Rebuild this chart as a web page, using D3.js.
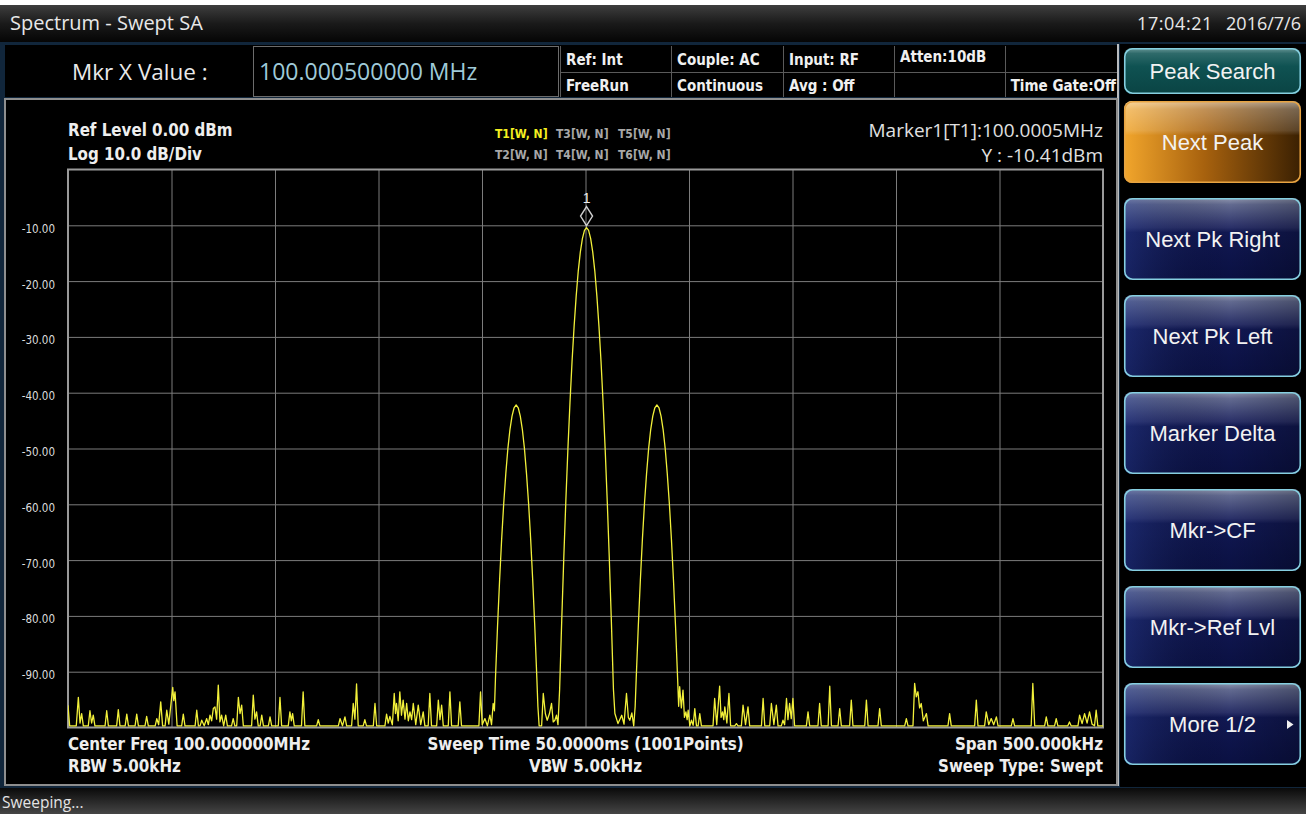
<!DOCTYPE html>
<html>
<head>
<meta charset="utf-8">
<script src="https://cdn.jsdelivr.net/npm/d3@7"></script>
<style>
body { margin: 0; background: #000; overflow: hidden; }
svg text { font-family: "DejaVu Sans Condensed", "Liberation Sans Narrow", "Noto Sans", sans-serif; }
svg text.ui { font-family: "Liberation Sans", Arial, sans-serif; }
svg text.win { font-family: "Open Sans", "Noto Sans", sans-serif; }
</style>
</head>
<body>
<div id="chart"></div>
<script>

// values
var yTicks = [-10, -20, -30, -40, -50, -60, -70, -80, -90];
var xGrid = [-200, -150, -100, -50, 0, 50, 100, 150, 200];
var infoTop = ["Ref: Int", "Couple: AC", "Input: RF", "Atten:10dB", ""];
var infoBottom = ["FreeRun", "Continuous", "Avg : Off", "", "Time Gate:Off"];
var traceRow1 = ["T1[W, N]", "T3[W, N]", "T5[W, N]"];
var traceRow2 = ["T2[W, N]", "T4[W, N]", "T6[W, N]"];
var softKeys = ["Next Peak", "Next Pk Right", "Next Pk Left", "Marker Delta", "Mkr->CF", "Mkr->Ref Lvl", "More 1/2"];
var markerFreq = 0.5;      // kHz offset from 100 MHz
var markerLevel = -10.41;  // dBm

// trace: [offset from center (kHz), level (dBm)]
var trace = [
  [-250,-96.0],[-249.2,-99.7],
  [-246,-99.7],[-245,-94.6],[-244.2,-99.2],[-243.4,-97.5],[-242.6,-99.7],
  [-240.2,-99.7],[-239.4,-97.0],[-238.6,-99.2],[-237.8,-97.8],[-237,-99.7],
  [-232.1,-99.7],[-231.3,-97.0],[-230.5,-99.7],
  [-226.5,-99.7],[-225.7,-96.8],[-224.9,-99.7],
  [-222.4,-99.7],[-221.6,-97.6],[-220.8,-99.7],
  [-217.6,-99.7],[-216.8,-97.6],[-216,-99.7],
  [-212.8,-99.7],[-212,-98.0],[-211.2,-99.7],
  [-207.9,-99.7],[-207.1,-98.4],[-206.2,-99.5],[-205.2,-95.4],[-204.3,-99.7],
  [-203.1,-99.7],[-202.3,-96.9],[-201.3,-99.4],[-199.4,-92.8],[-198.9,-95.2],[-198.3,-93.6],[-197.3,-99.7],
  [-195.1,-99.7],[-194.3,-97.6],[-193.5,-99.7],
  [-188.6,-99.7],[-187.8,-96.9],[-187,-99.7],
  [-186.2,-99.7],[-185.4,-98.7],[-184.2,-99.7],[-183,-98.4],[-182.2,-99.5],[-181.4,-97.8],[-180.6,-98.8],
  [-179.8,-96.6],[-179,-96.3],[-178.2,-98.5],[-177.4,-92.4],[-176.6,-99.0],[-175.8,-97.8],[-174.8,-99.7],
  [-173.8,-97.8],[-173,-99.7],
  [-171,-99.7],[-170.2,-98.4],[-169.4,-99.7],
  [-168.5,-99.7],[-167.7,-94.6],[-166.9,-97.5],[-166.1,-96.0],[-165.3,-99.7],
  [-161.3,-99.7],[-160.5,-94.2],[-159.7,-98.5],[-158.9,-97.2],[-158.1,-99.7],
  [-157.2,-99.7],[-156.4,-97.8],[-155.6,-99.7],
  [-153.2,-99.7],[-152.4,-98.1],[-151.6,-99.7],
  [-148.4,-99.7],[-147.6,-94.6],[-146.8,-99.7],
  [-143.6,-99.7],[-142.8,-97.2],[-142.1,-98.8],[-141.5,-97.5],[-140.7,-99.7],
  [-137.2,-99.7],[-136.4,-93.6],[-135.6,-99.7],
  [-129.9,-99.7],[-129.1,-98.6],[-128.3,-99.7],
  [-119.4,-99.7],[-118.6,-98.4],[-117.4,-99.7],[-116.2,-98.1],[-115.4,-99.7],
  [-113,-99.7],[-112.2,-95.7],[-111.4,-98.5],[-110.6,-92.2],[-109.8,-99.7],
  [-107.4,-99.7],[-106.6,-98.6],[-105.8,-99.7],
  [-102.5,-99.7],[-101.7,-95.7],[-100.9,-99.7],
  [-96.9,-99.7],[-96.1,-97.6],[-95.3,-99.2],[-94.5,-98.0],[-93.3,-99.5],[-92.4,-93.9],[-91.8,-97.5],
  [-91.3,-95.7],[-90.5,-98.8],[-89.7,-93.6],[-88.9,-97.8],[-88.1,-95.1],[-87.2,-98.5],[-86.4,-95.7],
  [-85.6,-98.8],[-84.8,-97.2],[-84.0,-98.6],[-83.2,-95.7],[-82.0,-99.5],[-80.8,-96.0],[-79.6,-99.5],
  [-78.4,-97.2],[-77.6,-99.7],
  [-76,-99.7],[-75.2,-93.9],[-74.4,-99.7],
  [-71.9,-99.7],[-71.1,-95.1],[-70.3,-98.6],[-69.5,-96.0],[-68.7,-99.7],
  [-66.3,-99.7],[-65.5,-93.6],[-64.7,-99.7],
  [-61.5,-99.7],[-60.7,-95.4],[-59.9,-99.7],
  [-51.5,-99.7],[-50.7,-93.6],[-49.9,-99.5],[-48.6,-98.4],[-47.4,-99.7],[-46.2,-97.8],[-45.4,-99.5],
  [-44.6,-95.7],[-44.0,-97.0],
  // lower sideband
  [-43.5,-91.2],[-42.5,-81.9],[-41.5,-73.6],[-40.5,-66.2],[-39.5,-59.8],[-38.5,-54.5],[-37.5,-50.0],
  [-36.5,-46.6],[-35.5,-44.2],[-34.5,-42.7],[-33.5,-42.2],[-32.5,-42.7],[-31.5,-44.2],[-30.5,-46.6],
  [-29.5,-50.0],[-28.5,-54.5],[-27.5,-59.8],[-26.5,-66.2],[-25.5,-73.6],[-24.5,-81.9],[-23.5,-91.2],
  [-23.0,-96.2],[-22.4,-99.7],
  [-21.2,-99.7],[-20.4,-93.9],[-19.4,-97.5],[-18.5,-98.7],[-17.4,-97.5],[-16.4,-95.7],[-15.6,-99.0],
  [-14.8,-98.7],[-14.0,-97.8],[-13.3,-99.5],
  // carrier
  [-12.5,-93.2],[-11.5,-81.0],[-10.5,-69.7],[-9.5,-59.4],[-8.5,-50.1],[-7.5,-41.8],[-6.5,-34.4],
  [-5.5,-28.1],[-4.5,-22.7],[-3.5,-18.2],[-2.5,-14.8],[-1.5,-12.4],[-0.5,-10.9],[0.5,-10.41],
  [1.5,-10.9],[2.5,-12.4],[3.5,-14.8],[4.5,-18.2],[5.5,-22.7],[6.5,-28.1],[7.5,-34.4],[8.5,-41.8],
  [9.5,-50.1],[10.5,-59.4],[11.5,-69.7],[12.5,-81.0],[13.5,-93.2],
  [14.2,-97.5],[15.7,-99.3],[17.5,-97.8],[18.6,-99.4],[19.8,-93.9],[20.7,-98.2],[21.4,-98.7],
  [22.4,-97.4],[23.3,-99.7],
  // upper sideband
  [24.0,-96.2],[24.5,-91.2],[25.5,-81.9],[26.5,-73.6],[27.5,-66.2],[28.5,-59.8],[29.5,-54.5],
  [30.5,-50.0],[31.5,-46.6],[32.5,-44.2],[33.5,-42.7],[34.5,-42.2],[35.5,-42.7],[36.5,-44.2],
  [37.5,-46.6],[38.5,-50.0],[39.5,-54.5],[40.5,-59.8],[41.5,-66.2],[42.5,-73.6],[43.5,-81.9],
  [44.5,-91.2],[45.0,-96.2],
  [45.5,-92.7],[46.3,-96.5],[47.1,-93.3],[47.8,-98.2],[48.5,-97.2],[49.1,-98.6],[49.6,-96.9],
  [50.4,-99.7],[51.2,-98.7],[52.0,-99.6],[52.8,-96.6],[53.6,-99.7],
  [54.4,-99.7],[55.2,-97.5],[56.0,-99.7],
  [61.6,-99.7],[62.4,-94.8],[63.4,-99.5],[64.8,-92.6],[65.5,-98.2],[66.2,-97.2],[66.8,-98.6],
  [67.3,-96.3],[68.3,-99.2],[69.3,-93.9],[70.1,-99.7],
  [72.1,-99.7],[72.9,-99.3],[73.7,-99.7],
  [75.3,-99.7],[76.1,-96.0],[77.3,-99.5],[78.5,-96.3],[79.3,-99.7],
  [85,-99.7],[85.8,-94.8],[86.6,-99.7],
  [89,-99.7],[89.8,-95.7],[91,-99.5],[92.2,-96.0],[93,-99.7],
  [94.6,-99.7],[95.4,-98.7],[96.2,-99.5],[97.1,-94.8],[97.8,-98.6],[98.6,-95.7],[99.4,-98.4],
  [100.2,-94.8],[101,-99.7],
  [106.7,-99.7],[107.5,-97.2],[108.3,-99.7],
  [112.3,-99.7],[113.1,-95.7],[113.9,-99.7],
  [117.2,-99.7],[118.0,-92.6],[118.8,-99.7],
  [122,-99.7],[122.8,-96.6],[123.6,-99.7],
  [127.6,-99.7],[128.4,-95.1],[129.2,-99.7],
  [134.9,-99.7],[135.7,-95.1],[136.5,-99.7],
  [141.3,-99.7],[142.1,-96.6],[142.9,-99.7],
  [154.2,-99.7],[155.0,-98.4],[155.8,-99.7],
  [158.2,-99.7],[159.0,-92.1],[159.8,-94.5],[160.6,-93.6],[161.4,-96.5],[162.2,-95.7],[163.2,-98.8],
  [164.7,-97.5],[165.5,-99.7],
  [175.1,-99.7],[175.9,-97.5],[176.7,-99.7],
  [188,-99.7],[188.8,-95.1],[189.6,-99.7],
  [192.8,-99.7],[193.6,-97.2],[194.8,-99.5],[196.0,-98.4],[197.2,-99.5],[198.5,-98.1],[199.3,-99.7],
  [205.7,-99.7],[206.5,-98.4],[207.3,-99.7],
  [215.3,-99.7],[216.1,-92.1],[217.0,-99.7],
  [221.8,-99.7],[222.6,-98.1],[223.4,-99.7],
  [226.6,-99.7],[227.4,-98.4],[228.2,-99.7],
  [233,-99.7],[233.8,-99.0],[234.6,-99.7],
  [237.9,-99.7],[238.7,-97.8],[239.9,-99.3],[241.1,-97.5],[242.3,-99.2],[243.5,-97.2],[244.7,-99.4],
  [245.9,-99.7],[246.7,-96.9],[247.5,-99.7],
  [250,-99.7]
];

var W = 1306, H = 814;
var plot = {left: 68, right: 1103, top: 169.5, bottom: 727.5};

var svg = d3.select('#chart')
  .append('svg')
    .attr('width', W)
    .attr('height', H);

var defs = svg.append('defs');

function grad(id, stops, horiz) {
  var g = defs.append('linearGradient').attr('id', id)
    .attr('x1', 0).attr('y1', 0)
    .attr('x2', horiz ? 1 : 0).attr('y2', horiz ? 0 : 1);
  stops.forEach(function(s) {
    g.append('stop').attr('offset', s[0]).attr('stop-color', s[1])
      .attr('stop-opacity', s[2] == null ? 1 : s[2]);
  });
}
grad('titleG', [[0, '#3e3e3e'], [0.5, '#1a1a1a'], [1, '#050505']]);
grad('statusG', [[0, '#0a0a0a'], [1, '#454545']]);
grad('navyG', [[0, '#9298b0'], [0.08, '#626a90'], [0.36, '#2a3068'], [0.42, '#111852'], [1, '#0a1042']]);
grad('navyH', [[0, '#3048a0', 0.35], [0.6, '#000', 0], [1, '#000', 0.25]], true);
grad('orangeH', [[0, '#f2a62c'], [0.45, '#a8620e'], [1, '#3a2002']], true);
grad('glossV', [[0, '#fff', 0.55], [0.1, '#fff', 0.3], [0.36, '#fff', 0.15], [0.42, '#fff', 0], [1, '#fff', 0]]);
grad('tealG', [[0, '#6a9898'], [0.12, '#2e6a6a'], [0.4, '#0f5252'], [1, '#0a4444']]);

// window frame
svg.append('rect').attr('width', W).attr('height', H).attr('fill', '#11263b');
svg.append('rect').attr('width', W).attr('height', 5).attr('fill', '#fff');
svg.append('rect').attr('y', 5).attr('width', W).attr('height', 37).attr('fill', 'url(#titleG)');
svg.append('text').attr('class', 'win').attr('x', 10).attr('y', 30)
  .attr('font-size', 20).attr('fill', '#e8e8e8').text('Spectrum - Swept SA');
svg.append('text').attr('class', 'win').attr('x', 1213).attr('y', 30).attr('text-anchor', 'end')
  .attr('font-size', 18).attr('letter-spacing', 0.6).attr('fill', '#e8e8e8').text('17:04:21');
svg.append('text').attr('class', 'win').attr('x', 1301).attr('y', 30).attr('text-anchor', 'end')
  .attr('font-size', 18).attr('fill', '#e8e8e8').text('2016/7/6');

// header
svg.append('rect').attr('x', 5).attr('y', 45).attr('width', 1112).attr('height', 52).attr('fill', '#000');
svg.append('text').attr('class', 'win').attr('x', 72).attr('y', 80)
  .attr('font-size', 22.5).attr('fill', '#eaeaea').text('Mkr X Value :');
svg.append('rect').attr('x', 253.5).attr('y', 46.5).attr('width', 305).attr('height', 50)
  .attr('fill', '#000').attr('stroke', '#6c6c6c');
svg.append('text').attr('class', 'win').attr('x', 259).attr('y', 80)
  .attr('font-size', 23).attr('fill', '#9fcad8').text('100.000500000 MHz');

var colX = [560, 671, 783, 894, 1005, 1117];
var info = svg.append('g');
info.append('line').attr('x1', 560).attr('x2', 1117).attr('y1', 72.5).attr('y2', 72.5).attr('stroke', '#5a5a5a');
colX.forEach(function(cx) {
  info.append('line').attr('x1', cx + 0.5).attr('x2', cx + 0.5).attr('y1', 46).attr('y2', 97).attr('stroke', '#5a5a5a');
});
info.selectAll('text.top').data(infoTop).enter().append('text')
  .attr('x', function(d, i) { return colX[i] + 6; })
  .attr('y', function(d, i) { return i == 3 ? 62 : 64.5; })
  .attr('font-size', 15).attr('font-weight', 'bold').attr('fill', '#f0f0f0')
  .text(function(d) { return d; });
info.selectAll('text.bot').data(infoBottom).enter().append('text')
  .attr('x', function(d, i) { return i == 4 ? colX[5] - 1 : colX[i] + 6; })
  .attr('text-anchor', function(d, i) { return i == 4 ? 'end' : 'start'; })
  .attr('y', 91)
  .attr('font-size', 15).attr('font-weight', 'bold').attr('fill', '#f0f0f0')
  .text(function(d) { return d; });

// right soft key panel
svg.append('rect').attr('x', 1120).attr('y', 44).attr('width', 186).attr('height', 743).attr('fill', '#000');
svg.append('line').attr('x1', 1118).attr('x2', 1118).attr('y1', 44).attr('y2', 786)
  .attr('stroke', '#b8bcc0').attr('stroke-width', 2);

function softKey(y0, h, label, fill, stroke, overlay) {
  var g = svg.append('g').attr('transform', 'translate(1124,' + y0 + ')');
  g.append('rect').attr('width', 177).attr('height', h).attr('rx', 8).attr('fill', fill);
  if (overlay) g.append('rect').attr('width', 177).attr('height', h).attr('rx', 8).attr('fill', overlay);
  g.append('rect').attr('x', 0.75).attr('y', 0.75).attr('width', 175.5).attr('height', h - 1.5).attr('rx', 8)
    .attr('fill', 'none').attr('stroke', stroke).attr('stroke-width', 1.6);
  g.append('text').attr('class', 'ui').attr('x', 88.5).attr('y', h / 2 + 8)
    .attr('text-anchor', 'middle').attr('font-size', 22).attr('fill', '#f2f2f2').text(label);
  return g;
}
softKey(48, 46, 'Peak Search', 'url(#tealG)', '#86cfe0');
softKeys.forEach(function(k, i) {
  var top = 101 + 97 * i;
  var g;
  if (i == 0) g = softKey(top, 82, k, 'url(#orangeH)', '#e8a442', 'url(#glossV)');
  else g = softKey(top, 82, k, 'url(#navyG)', '#86cfe0', 'url(#navyH)');
  if (k == 'More 1/2') {
    g.append('path').attr('d', 'M163,37 L169.5,41.5 L163,46 Z').attr('fill', '#f0f0f0');
  }
});

// plot panel
svg.append('rect').attr('x', 5).attr('y', 99).attr('width', 1112).attr('height', 686)
  .attr('fill', '#000').attr('stroke', '#8e8e8e').attr('stroke-width', 2);

var x = d3.scaleLinear().domain([-250, 250]).range([plot.left, plot.right]);
var y = d3.scaleLinear().domain([0, -100]).range([plot.top, plot.bottom]);

svg.append('g')
  .attr('transform', 'translate(0,' + plot.bottom + ')')
  .call(d3.axisBottom(x).tickValues(xGrid).tickSize(-(plot.bottom - plot.top)).tickFormat(''))
  .call(function(g) {
    g.select('.domain').remove();
    g.selectAll('line').attr('stroke', '#7c7c7c');
  });

svg.append('g')
  .attr('transform', 'translate(' + plot.left + ',0)')
  .call(d3.axisLeft(y).tickValues(yTicks).tickSize(-(plot.right - plot.left)).tickFormat(''))
  .call(function(g) {
    g.select('.domain').remove();
    g.selectAll('line').attr('stroke', '#7c7c7c');
  });

svg.append('g')
  .attr('transform', 'translate(' + (plot.left - 13) + ',0)')
  .call(d3.axisLeft(y).tickValues(yTicks).tickSize(0).tickPadding(0)
    .tickFormat(function(d) { return d.toFixed(2); }))
  .call(function(g) {
    g.select('.domain').remove();
    g.selectAll('text').attr('dy', '0.6em').attr('fill', '#dcdcdc')
      .attr('font-size', 11.5).attr('font-family', '"Liberation Sans", Arial, sans-serif');
  });

svg.append('rect').attr('x', plot.left).attr('y', plot.top)
  .attr('width', plot.right - plot.left).attr('height', plot.bottom - plot.top)
  .attr('fill', 'none').attr('stroke', '#9a9a9a').attr('stroke-width', 2);

defs.append('clipPath').attr('id', 'clip').append('rect')
  .attr('x', plot.left).attr('y', plot.top - 1)
  .attr('width', plot.right - plot.left).attr('height', plot.bottom - plot.top + 1);

var line = d3.line()
  .x(function(d) { return x(d[0]); })
  .y(function(d) { return y(d[1]); });

svg.append('path')
  .datum(trace)
  .attr('clip-path', 'url(#clip)')
  .attr('d', line)
  .attr('fill', 'none')
  .attr('stroke', '#f2f03a')
  .attr('stroke-width', 1.3)
  .attr('stroke-linejoin', 'round');

// marker
var mx = x(markerFreq), my = y(markerLevel);
svg.append('path')
  .attr('d', 'M' + mx + ',' + (my - 21) + ' L' + (mx + 6) + ',' + (my - 11.5) + ' L' + mx + ',' + (my - 2) +
    ' L' + (mx - 6) + ',' + (my - 11.5) + ' Z')
  .attr('fill', 'none').attr('stroke', '#cfcfcf').attr('stroke-width', 1.4);
svg.append('text').attr('class', 'ui').attr('x', mx).attr('y', my - 25).attr('text-anchor', 'middle')
  .attr('font-size', 14).attr('fill', '#eeeeee').text('1');

// annotations
svg.append('text').attr('x', 68).attr('y', 136).attr('font-size', 16.8).attr('font-weight', 'bold')
  .attr('fill', '#eeeeee').text('Ref Level 0.00 dBm');
svg.append('text').attr('x', 68).attr('y', 160).attr('font-size', 16.8).attr('font-weight', 'bold')
  .attr('fill', '#eeeeee').text('Log 10.0 dB/Div');

var tx = [495, 556, 618];
svg.selectAll('text.t1').data(traceRow1).enter().append('text')
  .attr('x', function(d, i) { return tx[i]; }).attr('y', 138)
  .attr('font-size', 12).attr('font-weight', 'bold')
  .attr('fill', function(d, i) { return i == 0 ? '#f4f020' : '#a8a8a8'; })
  .text(function(d) { return d; });
svg.selectAll('text.t2').data(traceRow2).enter().append('text')
  .attr('x', function(d, i) { return tx[i]; }).attr('y', 159)
  .attr('font-size', 12).attr('font-weight', 'bold').attr('fill', '#a8a8a8')
  .text(function(d) { return d; });

svg.append('text').attr('class', 'win').attr('x', 1103).attr('y', 137).attr('text-anchor', 'end')
  .attr('font-size', 19).attr('fill', '#e0e0e0').text('Marker1[T1]:100.0005MHz');
svg.append('text').attr('class', 'win').attr('x', 1103).attr('y', 162).attr('text-anchor', 'end')
  .attr('font-size', 19).attr('fill', '#e0e0e0').text('Y : -10.41dBm');

function footer(tx, ty, anchor, s) {
  svg.append('text').attr('x', tx).attr('y', ty).attr('text-anchor', anchor)
    .attr('font-size', 16.8).attr('font-weight', 'bold').attr('fill', '#eeeeee').text(s);
}
footer(68, 750, 'start', 'Center Freq 100.000000MHz');
footer(68, 772, 'start', 'RBW 5.00kHz');
footer(585.5, 750, 'middle', 'Sweep Time 50.0000ms (1001Points)');
footer(585.5, 772, 'middle', 'VBW 5.00kHz');
footer(1103, 750, 'end', 'Span 500.000kHz');
footer(1103, 772, 'end', 'Sweep Type: Swept');

// status bar
svg.append('rect').attr('y', 788).attr('width', W).attr('height', 26).attr('fill', 'url(#statusG)');
svg.append('text').attr('class', 'win').attr('x', 2).attr('y', 808)
  .attr('font-size', 15.5).attr('fill', '#e4e4e4').text('Sweeping...');
</script>
</body>
</html>
